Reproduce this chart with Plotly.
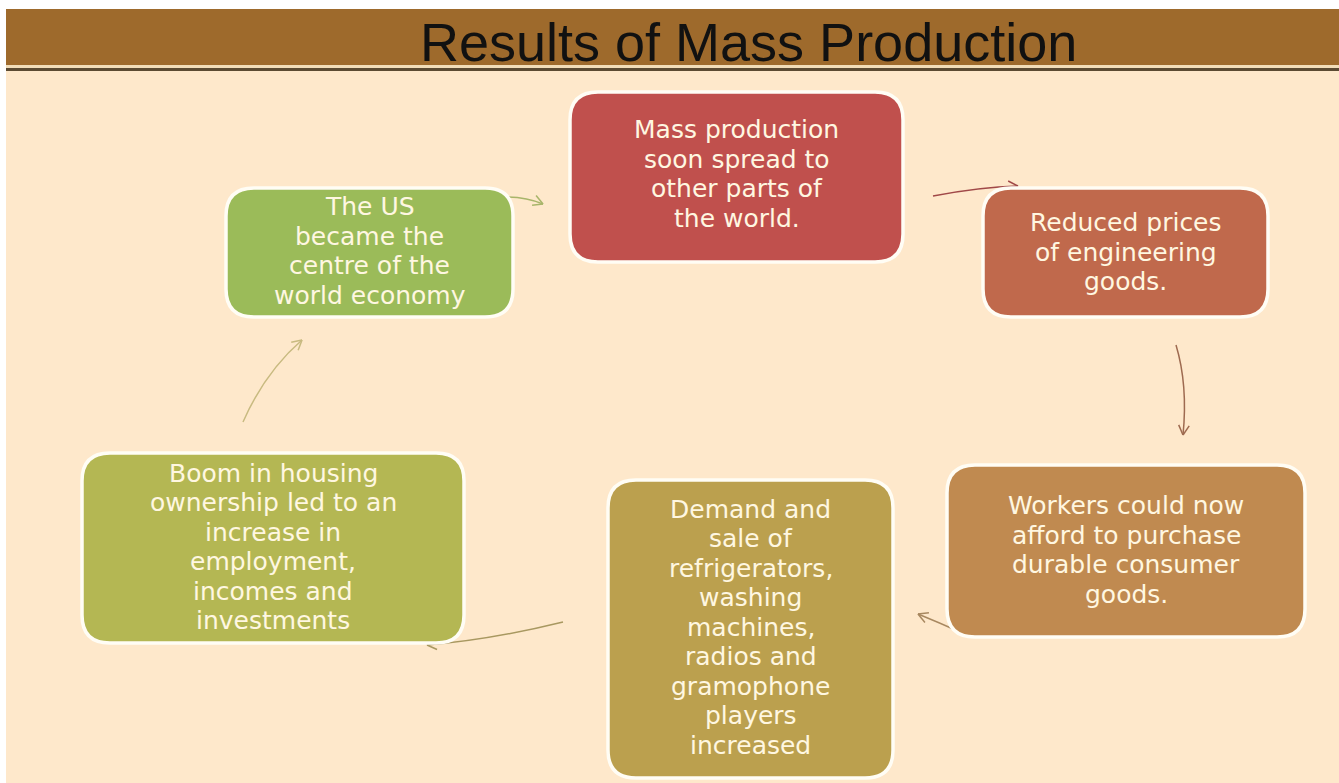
import plotly.graph_objects as go
import math

W, H = 1339, 783

title_text = "Results of Mass Production"

box_lines = [
    ["Mass production", "soon spread to", "other parts of", "the world."],
    ["Reduced prices", "of engineering", "goods."],
    ["Workers could now", "afford to purchase", "durable consumer", "goods."],
    ["Demand and", "sale of", "refrigerators,", "washing", "machines,", "radios and",
     "gramophone", "players", "increased"],
    ["Boom in housing", "ownership led to an", "increase in", "employment,",
     "incomes and", "investments"],
    ["The US", "became the", "centre of the", "world economy"],
]
box_x0 = [570, 983, 947, 608, 82, 226]
box_y0 = [92, 188, 465, 480, 453, 188]
box_x1 = [903, 1268, 1305, 893, 464, 513]
box_y1 = [262, 317, 637, 778, 643, 317]
box_text_y = [174, 252, 550, 627, 547, 251]
box_colors = ["#C0504D", "#C0694C", "#C08A50", "#BBA04E", "#B4B753", "#9BBB59"]

# arrows: start, control, end
arr_start = [(933, 196), (1176, 345), (960, 632), (563, 622), (243, 422), (505, 197)]
arr_ctrl = [(980, 187), (1188, 385), (940, 623), (490, 640), (265, 372), (526, 197)]
arr_end = [(1018, 186), (1183, 435), (918, 614), (427, 645), (302, 340), (543, 204)]
arr_colors = ["#A04848", "#9E6A50", "#A88860", "#A89860", "#C8BA80", "#A8B56A"]

BG = "#FEE8CB"
TXT = "#FFF7E1"
LINE_PITCH = 29.5


def rrect(x0, y0, x1, y1, r):
    return (f"M {x0+r} {y0} L {x1-r} {y0} Q {x1} {y0} {x1} {y0+r} "
            f"L {x1} {y1-r} Q {x1} {y1} {x1-r} {y1} L {x0+r} {y1} "
            f"Q {x0} {y1} {x0} {y1-r} L {x0} {y0+r} Q {x0} {y0} {x0+r} {y0} Z")


fig = go.Figure()
fig.add_trace(go.Scatter(x=[0, W], y=[0, H], mode="markers",
                         marker=dict(opacity=0), hoverinfo="skip", showlegend=False))

shapes = []
shapes.append(dict(type="rect", xref="x", yref="y", x0=0, y0=0, x1=W, y1=H,
                   fillcolor="#FFFFFF", line=dict(width=0), layer="below"))
shapes.append(dict(type="rect", xref="x", yref="y", x0=6, y0=9, x1=W, y1=H,
                   fillcolor=BG, line=dict(width=0), layer="below"))
shapes.append(dict(type="rect", xref="x", yref="y", x0=6, y0=9, x1=W, y1=65,
                   fillcolor="#9E6A2C", line=dict(width=0), layer="below"))
shapes.append(dict(type="rect", xref="x", yref="y", x0=6, y0=65, x1=W, y1=68,
                   fillcolor="#F2DDB8", line=dict(width=0), layer="below"))
shapes.append(dict(type="rect", xref="x", yref="y", x0=6, y0=68, x1=W, y1=71,
                   fillcolor="#5B4A32", line=dict(width=0), layer="below"))

for (sx, sy), (cx, cy), (ex, ey), col in zip(arr_start, arr_ctrl, arr_end, arr_colors):
    shapes.append(dict(type="path", xref="x", yref="y",
                       path=f"M {sx} {sy} Q {cx} {cy} {ex} {ey}",
                       line=dict(color=col, width=1.5)))
    dx, dy = ex - cx, ey - cy
    L = math.hypot(dx, dy)
    ux, uy = dx / L, dy / L
    hl = 11
    for ang in (0.5, -0.5):
        ca, sa = math.cos(ang), math.sin(ang)
        bx = -(ux * ca - uy * sa) * hl
        by = -(ux * sa + uy * ca) * hl
        shapes.append(dict(type="line", xref="x", yref="y",
                           x0=ex, y0=ey, x1=ex + bx, y1=ey + by,
                           line=dict(color=col, width=1.5)))

for x0, y0, x1, y1, col in zip(box_x0, box_y0, box_x1, box_y1, box_colors):
    shapes.append(dict(type="path", xref="x", yref="y",
                       path=rrect(x0, y0, x1, y1, 28),
                       fillcolor=col, line=dict(color="#FFFDF5", width=3.5)))

annotations = []
annotations.append(dict(x=748, y=42, xref="x", yref="y", text=title_text,
                        showarrow=False, xanchor="center", yanchor="middle",
                        font=dict(family="Liberation Sans, Arial", size=54, color="#111111")))
for lines, x0, x1, ty in zip(box_lines, box_x0, box_x1, box_text_y):
    n = len(lines)
    for i, ln in enumerate(lines):
        annotations.append(dict(x=(x0 + x1) / 2, y=ty + (i - (n - 1) / 2) * LINE_PITCH,
                                xref="x", yref="y", text=ln,
                                showarrow=False, xanchor="center", yanchor="middle",
                                font=dict(family="DejaVu Sans, sans-serif", size=25, color=TXT)))

fig.update_layout(
    width=W, height=H,
    margin=dict(l=0, r=0, t=0, b=0),
    paper_bgcolor=BG, plot_bgcolor=BG,
    xaxis=dict(range=[0, W], visible=False, fixedrange=True),
    yaxis=dict(range=[H, 0], visible=False, fixedrange=True),
    shapes=shapes, annotations=annotations, showlegend=False,
)

fig.write_html("out.html", config={"displayModeBar": False},
               post_script="document.body.style.margin='0';document.body.style.overflow='hidden';")
